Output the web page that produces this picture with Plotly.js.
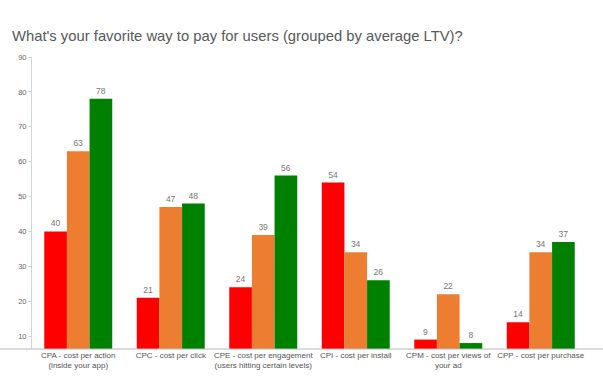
<!DOCTYPE html>
<html>
<head>
<meta charset="utf-8">
<script src="https://cdn.plot.ly/plotly-3.0.1.min.js"></script>
<style>html,body{margin:0;padding:0;background:#fff;}#chart{width:603px;height:377px;}</style>
</head>
<body>
<div id="chart"></div>
<script>
var categories = [
  "CPA - cost per action<br>(inside your app)",
  "CPC - cost per click",
  "CPE - cost per engagement<br>(users hitting certain levels)",
  "CPI - cost per install",
  "CPM - cost per views of<br>your ad",
  "CPP - cost per purchase"
];
var seriesNames = ["Low LTV", "Medium LTV", "High LTV"];
var lowLTV = [40, 21, 24, 54, 9, 14];
var mediumLTV = [63, 47, 39, 34, 22, 34];
var highLTV = [78, 48, 56, 26, 8, 37];
var colors = ["#ff0000", "#ed7d31", "#008000"];
var yTicks = [10, 20, 30, 40, 50, 60, 70, 80, 90];

var allSeries = [lowLTV, mediumLTV, highLTV];
var traces = allSeries.map(function(vals, i){
  return {
    type: "bar",
    name: seriesNames[i],
    x: categories,
    y: vals,
    base: 0,
    marker: {color: colors[i]},
    text: vals.map(String),
    textposition: "outside",
    textfont: {family: "Liberation Sans Narrow, Liberation Sans, sans-serif", size: 8.5, color: "#777"},
    cliponaxis: false,
    hoverinfo: "x+y"
  };
});

var layout = {
  width: 603, height: 377,
  margin: {l: 32, r: 16, t: 57, b: 28},
  paper_bgcolor: "#fff", plot_bgcolor: "#fff",
  showlegend: false,
  barmode: "group",
  bargap: 0.265,
  bargroupgap: 0,
  title: {
    text: "What's your favorite way to pay for users (grouped by average LTV)?",
    font: {family: "Liberation Sans, Arial, sans-serif", size: 14.8, color: "#595959"},
    xref: "container", x: 12/603, xanchor: "left",
    yref: "container", y: 1 - 36/377, yanchor: "middle"
  },
  xaxis: {
    type: "category",
    showline: false,
    ticks: "",
    showgrid: false,
    tickfont: {family: "Liberation Sans Narrow, Liberation Sans, sans-serif", size: 8, color: "#555"},
    automargin: false
  },
  yaxis: {
    range: [6.3, 90],
    tickvals: yTicks,
    ticktext: yTicks.map(String),
    showgrid: false,
    zeroline: false,
    showline: true,
    linecolor: "#d0d4dc",
    linewidth: 1,
    ticks: "outside",
    ticklen: 3,
    tickcolor: "#d0d4dc",
    tickfont: {family: "Liberation Sans, sans-serif", size: 7.5, color: "#666"},
    automargin: false
  },
  shapes: [{
    type: "line", xref: "paper", yref: "paper",
    x0: -32/555, x1: 571/555, y0: 0, y1: 0,
    line: {color: "#b8b8b8", width: 1}
  }]
};

Plotly.newPlot("chart", traces, layout, {staticPlot: true, displayModeBar: false});
</script>
</body>
</html>
